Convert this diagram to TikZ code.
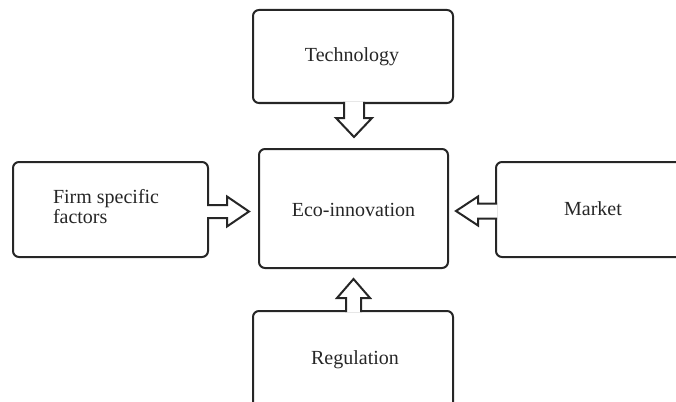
\documentclass[tikz,border=0pt]{standalone}
\usepackage{fontspec}
\setmainfont{Liberation Serif}
\usetikzlibrary{calc}
\definecolor{ink}{HTML}{262626}
\tikzset{
  box/.style={draw=ink, line width=2pt, rounded corners=6pt, inner sep=0pt, outer sep=0pt},
  arrowline/.style={draw=ink, fill=white, line width=2pt, line join=miter},
  lbl/.style={text=ink, font=\fontsize{20}{18}\selectfont, inner sep=0pt, outer sep=0pt}
}
% #1 start, #2 rotation, #3 stem half width, #4 head half width, #5 head base, #6 tip
\newcommand\blockarrow[6]{%
  \begin{scope}[shift={#1}, rotate=#2]
    \filldraw[arrowline] (-1,-#3) -- (#5,-#3) -- (#5,-#4) -- (#6,0) -- (#5,#4) -- (#5,#3) -- (-1,#3);
  \end{scope}}
\begin{document}
\begin{tikzpicture}[x=1pt, y=-1pt]
\useasboundingbox (0,0) rectangle (676,401);
\clip (0,0) rectangle (676,401);
% boxes
\node[box, minimum width=200pt, minimum height=93pt] (tech) at (353,56.5) {};
\node[box, minimum width=195pt, minimum height=95pt] (firm) at (110.5,209.5) {};
\node[box, minimum width=189pt, minimum height=119pt] (eco) at (353.5,208.5) {};
\node[box, minimum width=224pt, minimum height=95pt] (market) at (608,209.5) {};
\node[box, minimum width=200pt, minimum height=129pt] (reg) at (353,375.5) {};
% block arrows
\blockarrow{($(tech.south)+(1,0)$)}{-90}{10}{18}{15}{34}
\blockarrow{($(firm.east)+(0,2)$)}{0}{6.5}{15}{19}{41}
\blockarrow{($(market.west)+(0,1.5)$)}{180}{7.5}{14.5}{18}{40}
\blockarrow{($(reg.north)+(0.5,0)$)}{90}{7.5}{16.5}{13}{32}
% texts
\node[lbl, anchor=base] (ttech) at (352,62) {Technology};
\node[lbl, anchor=base] (teco) at (353.5,216) {Eco-innovation};
\node[lbl, anchor=base west, align=left] (tfirm) at (53,223) {Firm specific\\factors};
\node[lbl, anchor=base] (tmarket) at (593,215) {Market};
\node[lbl, anchor=base] (treg) at (355,364) {Regulation};
\end{tikzpicture}
\end{document}
